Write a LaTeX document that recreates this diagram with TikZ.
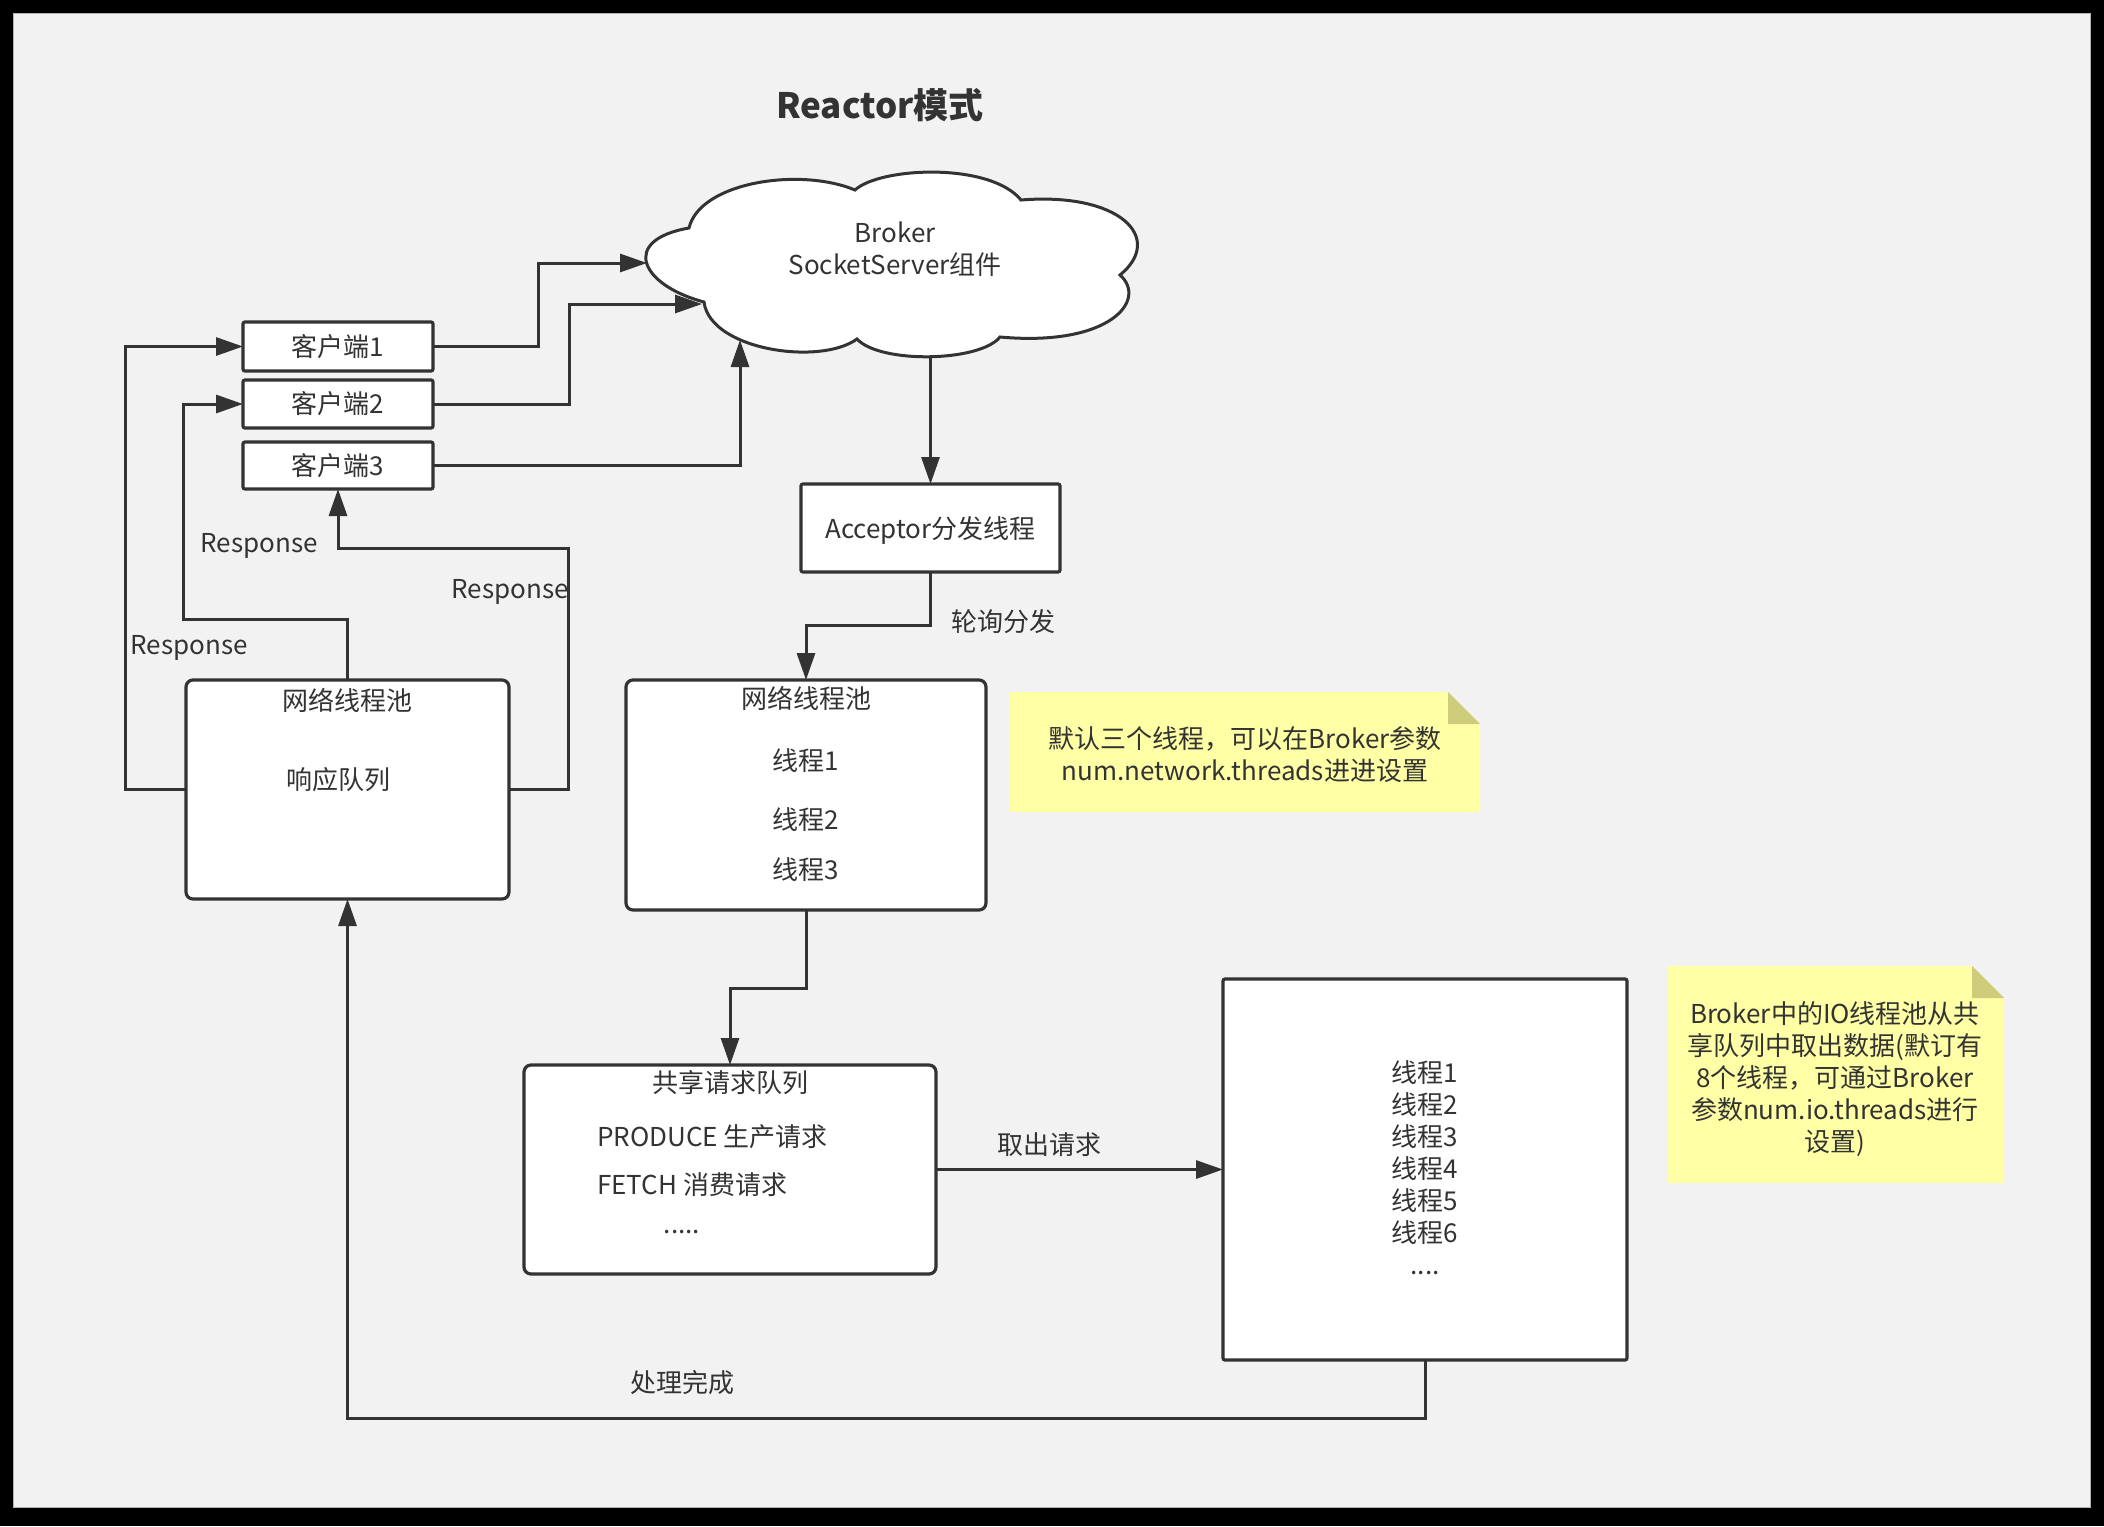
\documentclass[tikz,border=0pt]{standalone}
\usepackage{fontspec}
\setmainfont{Noto Sans CJK SC}
\usetikzlibrary{arrows.meta}
\definecolor{ink}{HTML}{333333}
\definecolor{bgray}{HTML}{F2F2F2}
\definecolor{noteY}{HTML}{FFFFA6}
\definecolor{noteF}{HTML}{CCCC7A}
\begin{document}
\begin{tikzpicture}[x=1pt,y=-1pt,
  txt/.style={text=ink,font=\fontsize{26}{32}\selectfont,inner sep=0pt,align=center},
  box/.style={draw=ink,line width=3.2pt,fill=white,inner sep=0pt,outer sep=0pt,rounded corners=2pt},
  rbox/.style={box,rounded corners=7pt},
  arr/.style={draw=ink,line width=3pt,-{Triangle[length=27pt,width=18pt]}},
  notebg/.style={fill=noteY},
  notefold/.style={fill=noteF}
]
\useasboundingbox (0,0) rectangle (2104,1526);
\fill[black] (0,0) rectangle (2104,1526);
\fill[bgray] (13,13) rectangle (2090,1507);
\draw[gray!60,line width=1pt] (13,13) rectangle (2090,1507);

\node[txt,font=\fontsize{35}{40}\selectfont\bfseries] (title) at (880,105) {Reactor模式};

% cloud
\draw[ink,line width=3pt,fill=white]
  (704,302) .. controls (640,285) and (620,240) .. (689,228)
  .. controls (700,182) and (800,167) .. (855,190)
  .. controls (880,167) and (990,162) .. (1021,200)
  .. controls (1120,192) and (1165,238) .. (1120,275)
  .. controls (1148,300) and (1110,347) .. (1000,337)
  .. controls (980,362) and (880,364) .. (857,339)
  .. controls (820,366) and (710,350) .. (704,302) -- cycle;
\node[txt] (broker) at (895,249) {Broker\\SocketServer组件};
\coordinate (cA) at (647,263);
\coordinate (cB) at (702,304);
\coordinate (cC) at (740,340);
\coordinate (cD) at (930.5,356);

% clients
\node[box,minimum width=190pt,minimum height=49pt] (c1) at (338,346.5) {};
\node[box,minimum width=190pt,minimum height=48pt] (c2) at (338,404) {};
\node[box,minimum width=190pt,minimum height=47pt] (c3) at (338,465.5) {};
\node[txt] (c1t) at (338,346.5) {客户端1};
\node[txt] (c2t) at (338,404) {客户端2};
\node[txt] (c3t) at (338,465.5) {客户端3};

% acceptor
\node[box,minimum width=259pt,minimum height=88pt] (acc) at (930.5,528) {};
\node[txt] (acct) at (930.5,530) {Acceptor分发线程};

% left pool
\node[rbox,minimum width=323pt,minimum height=219pt] (lpool) at (347.5,789.5) {};
\node[txt] (lpt1) at (347,700) {网络线程池};
\node[txt] (lpt2) at (338,780) {响应队列};

% middle pool
\node[rbox,minimum width=360pt,minimum height=230pt] (mpool) at (806,795) {};
\node[txt] (mpt0) at (806,698) {网络线程池};
\node[txt] (mpt1) at (806,761) {线程1};
\node[txt] (mpt2) at (806,820) {线程2};
\node[txt] (mpt3) at (806,870) {线程3};

% shared queue
\node[rbox,minimum width=412pt,minimum height=209pt] (queue) at (730,1169.5) {};
\node[txt] (qt0) at (730,1083) {共享请求队列};
\node[txt,anchor=west] (qt1) at (597,1137) {PRODUCE 生产请求};
\node[txt,anchor=west] (qt2) at (597,1185) {FETCH 消费请求};
\node[txt,anchor=base] (qt3) at (682,1233) {.....};

% io box
\node[box,minimum width=404pt,minimum height=381pt] (iobox) at (1425,1169.5) {};
\node[txt] (iot) at (1425,1168) {线程1\\线程2\\线程3\\线程4\\线程5\\线程6\\....};

% notes
\fill[notebg] (1010,692) -- (1448,692) -- (1480,724) -- (1480,812) -- (1010,812) -- cycle;
\fill[notefold] (1448,692) -- (1448,724) -- (1480,724) -- cycle;
\node[txt] (note1) at (1245,755) {默认三个线程，可以在Broker参数\\num.network.threads进进设置};

\fill[notebg] (1668,966) -- (1972,966) -- (2004,998) -- (2004,1183) -- (1668,1183) -- cycle;
\fill[notefold] (1972,966) -- (1972,998) -- (2004,998) -- cycle;
\node[txt] (note2) at (1835,1079) {Broker中的IO线程池从共\\享队列中取出数据(默订有\\8个线程，可通过Broker\\参数num.io.threads进行\\设置)};

% connectors
\draw[arr] (c1.east) -- ++(105,0) |- (cA);
\draw[arr] (c2.east) -- ++(136,0) |- (cB);
\draw[arr] (c3.east) -| (cC);
\draw[arr] (cD) -- (acc.north);
\draw[arr] (acc.south) -- ++(0,53) -| (mpool.north);
\draw[arr] (mpool.south) -- ++(0,78) -| (queue.north);
\draw[arr] (queue.east) -- (iobox.west);
\draw[arr] (iobox.south) -- ++(0,58) -| (lpool.south);
\draw[arr] (lpool.west) -- ++(-61,0) |- (c1.west);
\draw[arr] (lpool.north) |- (183,619) |- (c2.west);
\draw[arr] (lpool.east) -- ++(59,0) |- (338,548) -- (c3.south);

% labels
\node[txt] (l1) at (1003,622) {轮询分发};
\node[txt] (l2) at (1049,1145) {取出请求};
\node[txt] (l3) at (682,1383) {处理完成};
\node[txt] (r1) at (189,648) {Response};
\node[txt] (r2) at (259,546) {Response};
\node[txt] (r3) at (510,592) {Response};
\end{tikzpicture}
\end{document}
